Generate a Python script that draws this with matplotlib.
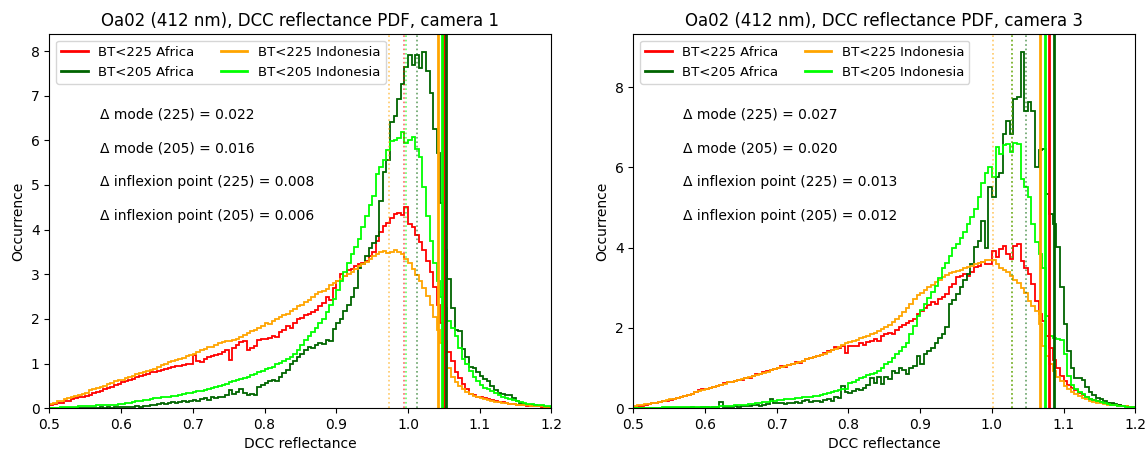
import numpy as np
import matplotlib.pyplot as plt

# bins: 0.005 wide from 0.5 to 1.2
bin_lo, bin_hi, nbins = 0.5, 1.2, 140

labels = ["BT<225 Africa", "BT<205 Africa", "BT<225 Indonesia", "BT<205 Indonesia"]
colors = ["red", "darkgreen", "orange", "lime"]

# camera 1 PDFs
cam1_afr225 = [
    0.08, 0.10, 0.12, 0.12, 0.15, 0.17, 0.20, 0.22, 0.24, 0.26,
    0.28, 0.30, 0.33, 0.36, 0.38, 0.42, 0.45, 0.48, 0.52, 0.55,
    0.58, 0.60, 0.63, 0.66, 0.70, 0.72, 0.74, 0.77, 0.80, 0.82,
    0.84, 0.86, 0.88, 0.90, 0.92, 0.94, 0.95, 0.97, 0.98, 1.00,
    1.20, 1.05, 1.03, 1.10, 1.15, 1.16, 1.18, 1.22, 1.26, 1.30,
    1.08, 1.35, 1.42, 1.48, 1.50, 1.30, 1.35, 1.40, 1.52, 1.55,
    1.55, 1.58, 1.62, 1.60, 1.70, 1.75, 1.85, 1.80, 1.90, 2.00,
    2.02, 2.08, 2.12, 2.15, 2.20, 2.28, 2.35, 2.48, 2.42, 2.70,
    2.85, 3.00, 2.95, 3.10, 3.12, 3.18, 3.22, 3.25, 3.30, 3.40,
    3.50, 3.75, 3.95, 4.08, 4.15, 4.25, 4.35, 4.38, 4.32, 4.50,
    4.12, 4.05, 3.88, 3.72, 3.55, 3.30, 3.05, 2.72, 2.30, 1.90,
    1.50, 1.25, 1.05, 0.82, 0.68, 0.54, 0.42, 0.32, 0.30, 0.26,
    0.24, 0.22, 0.20, 0.18, 0.16, 0.14, 0.13, 0.12, 0.10, 0.09,
    0.08, 0.07, 0.06, 0.05, 0.05, 0.04, 0.04, 0.03, 0.03, 0.02,
]
cam1_afr205 = [
    0.00, 0.00, 0.00, 0.01, 0.00, 0.01, 0.00, 0.01, 0.01, 0.00,
    0.01, 0.01, 0.00, 0.01, 0.02, 0.01, 0.02, 0.01, 0.02, 0.02,
    0.02, 0.03, 0.02, 0.03, 0.04, 0.03, 0.05, 0.04, 0.06, 0.08,
    0.10, 0.12, 0.10, 0.12, 0.14, 0.12, 0.14, 0.15, 0.13, 0.16,
    0.18, 0.17, 0.20, 0.22, 0.19, 0.24, 0.22, 0.26, 0.25, 0.30,
    0.40, 0.32, 0.36, 0.42, 0.33, 0.30, 0.31, 0.29, 0.48, 0.52,
    0.56, 0.60, 0.63, 0.60, 0.70, 0.78, 0.85, 0.98, 1.05, 1.15,
    1.22, 1.30, 1.37, 1.35, 1.42, 1.45, 1.44, 1.52, 1.50, 1.78,
    1.90, 2.00, 2.18, 2.30, 2.50, 2.70, 3.15, 3.22, 3.40, 3.58,
    3.70, 3.85, 4.65, 5.30, 5.55, 6.40, 6.55, 6.92, 7.25, 7.65,
    7.92, 7.68, 7.90, 7.62, 7.98, 7.55, 7.05, 6.25, 5.72, 4.60,
    3.55, 2.90, 2.25, 1.75, 1.72, 1.32, 1.15, 0.92, 0.90, 0.82,
    0.72, 0.66, 0.60, 0.50, 0.40, 0.34, 0.32, 0.29, 0.30, 0.22,
    0.15, 0.12, 0.10, 0.08, 0.07, 0.07, 0.05, 0.04, 0.03, 0.03,
]
cam1_ind225 = [
    0.10, 0.12, 0.15, 0.17, 0.20, 0.22, 0.24, 0.27, 0.30, 0.32,
    0.35, 0.40, 0.42, 0.45, 0.48, 0.50, 0.53, 0.57, 0.60, 0.62,
    0.64, 0.67, 0.70, 0.73, 0.76, 0.78, 0.80, 0.83, 0.86, 0.88,
    0.92, 0.96, 1.00, 1.03, 1.06, 1.08, 1.10, 1.13, 1.17, 1.20,
    1.22, 1.25, 1.30, 1.33, 1.36, 1.38, 1.42, 1.45, 1.48, 1.50,
    1.50, 1.53, 1.56, 1.60, 1.63, 1.68, 1.72, 1.76, 1.80, 1.85,
    1.90, 1.88, 1.95, 2.00, 2.05, 2.08, 2.12, 2.18, 2.22, 2.28,
    2.32, 2.38, 2.42, 2.48, 2.55, 2.60, 2.63, 2.68, 2.75, 2.80,
    2.85, 2.90, 2.95, 3.00, 3.05, 3.12, 3.18, 3.22, 3.28, 3.35,
    3.40, 3.45, 3.50, 3.52, 3.48, 3.50, 3.55, 3.50, 3.45, 3.35,
    3.25, 3.12, 2.98, 2.85, 2.70, 2.52, 2.30, 2.05, 1.75, 1.45,
    1.15, 0.90, 0.70, 0.58, 0.50, 0.43, 0.37, 0.32, 0.28, 0.24,
    0.22, 0.20, 0.18, 0.16, 0.14, 0.13, 0.12, 0.11, 0.10, 0.09,
    0.08, 0.07, 0.07, 0.06, 0.05, 0.05, 0.04, 0.04, 0.03, 0.03,
]
cam1_ind205 = [
    0.00, 0.01, 0.01, 0.02, 0.02, 0.02, 0.03, 0.03, 0.04, 0.04,
    0.04, 0.05, 0.05, 0.06, 0.06, 0.07, 0.07, 0.08, 0.08, 0.09,
    0.10, 0.11, 0.12, 0.14, 0.15, 0.17, 0.18, 0.19, 0.20, 0.22,
    0.22, 0.24, 0.25, 0.26, 0.27, 0.28, 0.30, 0.32, 0.33, 0.35,
    0.36, 0.38, 0.39, 0.41, 0.43, 0.45, 0.47, 0.49, 0.52, 0.55,
    0.58, 0.60, 0.62, 0.65, 0.68, 0.70, 0.74, 0.77, 0.80, 0.84,
    0.87, 0.90, 0.93, 0.98, 1.02, 1.06, 1.10, 1.15, 1.22, 1.30,
    1.42, 1.52, 1.62, 1.70, 1.80, 1.90, 2.00, 2.15, 2.30, 2.45,
    2.65, 2.85, 3.05, 3.25, 3.45, 3.62, 3.78, 4.05, 4.30, 4.55,
    4.75, 5.25, 5.40, 5.55, 5.78, 5.98, 6.00, 6.05, 6.18, 5.95,
    6.00, 6.08, 5.80, 5.62, 4.95, 4.30, 3.75, 3.25, 2.85, 2.50,
    2.25, 1.95, 1.80, 1.62, 1.35, 1.10, 1.00, 0.84, 0.70, 0.60,
    0.52, 0.46, 0.42, 0.38, 0.34, 0.30, 0.26, 0.23, 0.20, 0.18,
    0.16, 0.14, 0.12, 0.10, 0.09, 0.08, 0.07, 0.06, 0.05, 0.05,
]

# camera 3 PDFs
cam3_afr225 = [
    0.03, 0.05, 0.06, 0.08, 0.10, 0.12, 0.13, 0.15, 0.17, 0.19,
    0.21, 0.24, 0.26, 0.28, 0.31, 0.33, 0.36, 0.40, 0.44, 0.47,
    0.48, 0.50, 0.52, 0.56, 0.58, 0.62, 0.64, 0.65, 0.68, 0.70,
    0.70, 0.74, 0.76, 0.80, 0.84, 0.85, 0.90, 0.92, 0.95, 0.98,
    1.00, 1.04, 1.03, 1.08, 1.10, 1.14, 1.12, 1.18, 1.22, 1.24,
    1.28, 1.30, 1.32, 1.38, 1.42, 1.46, 1.52, 1.50, 1.55, 1.38,
    1.56, 1.56, 1.55, 1.62, 1.58, 1.65, 1.68, 1.72, 1.68, 1.80,
    1.84, 1.88, 1.85, 1.95, 2.02, 2.08, 2.12, 2.18, 2.22, 2.35,
    2.43, 2.50, 2.58, 2.64, 2.60, 2.72, 2.76, 2.85, 3.01, 3.10,
    3.26, 3.30, 3.34, 3.30, 3.40, 3.51, 3.55, 3.63, 3.58, 3.60,
    3.92, 3.76, 3.96, 4.05, 3.84, 3.72, 4.05, 4.10, 3.67, 3.50,
    3.34, 3.09, 2.67, 2.34, 2.17, 1.80, 1.51, 1.20, 1.01, 0.81,
    0.68, 0.58, 0.51, 0.44, 0.38, 0.33, 0.28, 0.24, 0.20, 0.18,
    0.15, 0.13, 0.12, 0.10, 0.08, 0.07, 0.06, 0.05, 0.04, 0.03,
]
cam3_afr205 = [
    0.00, 0.00, 0.00, 0.00, 0.01, 0.00, 0.00, 0.01, 0.00, 0.01,
    0.00, 0.01, 0.01, 0.00, 0.01, 0.01, 0.02, 0.01, 0.01, 0.02,
    0.02, 0.01, 0.03, 0.02, 0.16, 0.03, 0.04, 0.03, 0.05, 0.04,
    0.05, 0.06, 0.05, 0.07, 0.08, 0.06, 0.09, 0.10, 0.24, 0.12,
    0.12, 0.13, 0.11, 0.14, 0.13, 0.15, 0.14, 0.18, 0.20, 0.16,
    0.18, 0.17, 0.16, 0.20, 0.22, 0.18, 0.29, 0.26, 0.54, 0.40,
    0.37, 0.42, 0.48, 0.45, 0.50, 0.58, 0.75, 0.62, 0.78, 0.60,
    0.77, 0.72, 0.93, 0.88, 1.01, 0.95, 0.85, 1.01, 1.05, 1.30,
    1.10, 1.35, 1.42, 1.51, 1.62, 1.76, 1.85, 2.01, 2.59, 2.70,
    2.84, 3.01, 3.20, 3.34, 3.59, 4.01, 4.17, 4.67, 4.00, 5.50,
    5.25, 5.75, 5.85, 6.83, 7.16, 6.83, 7.71, 7.75, 8.88, 7.40,
    7.62, 7.41, 6.00, 6.42, 6.46, 5.34, 4.84, 4.59, 4.01, 3.01,
    2.09, 1.42, 1.01, 0.76, 0.76, 0.70, 0.52, 0.39, 0.32, 0.26,
    0.22, 0.18, 0.14, 0.12, 0.10, 0.08, 0.06, 0.05, 0.04, 0.03,
]
cam3_ind225 = [
    0.05, 0.07, 0.08, 0.10, 0.11, 0.13, 0.14, 0.16, 0.18, 0.20,
    0.22, 0.24, 0.26, 0.28, 0.30, 0.33, 0.36, 0.39, 0.42, 0.45,
    0.47, 0.50, 0.52, 0.55, 0.58, 0.61, 0.64, 0.66, 0.68, 0.70,
    0.72, 0.75, 0.77, 0.80, 0.83, 0.86, 0.88, 0.91, 0.94, 0.97,
    1.00, 1.03, 1.05, 1.07, 1.10, 1.12, 1.15, 1.18, 1.22, 1.25,
    1.28, 1.30, 1.33, 1.36, 1.40, 1.44, 1.48, 1.52, 1.58, 1.62,
    1.64, 1.67, 1.70, 1.74, 1.77, 1.80, 1.84, 1.88, 1.92, 1.98,
    2.03, 2.08, 2.15, 2.22, 2.30, 2.40, 2.50, 2.60, 2.72, 2.82,
    2.88, 2.95, 3.02, 3.08, 3.15, 3.20, 3.26, 3.32, 3.36, 3.40,
    3.42, 3.45, 3.48, 3.52, 3.55, 3.58, 3.62, 3.65, 3.68, 3.70,
    3.68, 3.60, 3.50, 3.45, 3.38, 3.30, 3.20, 3.12, 3.00, 2.88,
    2.67, 2.55, 2.42, 2.09, 1.55, 1.30, 1.10, 0.93, 0.78, 0.68,
    0.55, 0.48, 0.40, 0.35, 0.30, 0.26, 0.22, 0.19, 0.16, 0.14,
    0.12, 0.10, 0.09, 0.08, 0.07, 0.06, 0.05, 0.05, 0.04, 0.03,
]
cam3_ind205 = [
    0.00, 0.00, 0.00, 0.01, 0.01, 0.01, 0.01, 0.01, 0.02, 0.02,
    0.02, 0.02, 0.02, 0.02, 0.03, 0.03, 0.03, 0.03, 0.03, 0.03,
    0.03, 0.04, 0.04, 0.04, 0.05, 0.05, 0.05, 0.06, 0.07, 0.08,
    0.08, 0.09, 0.10, 0.11, 0.12, 0.13, 0.15, 0.16, 0.18, 0.19,
    0.20, 0.21, 0.22, 0.23, 0.24, 0.25, 0.26, 0.27, 0.28, 0.29,
    0.30, 0.31, 0.33, 0.35, 0.38, 0.41, 0.43, 0.46, 0.48, 0.47,
    0.62, 0.65, 0.70, 0.75, 0.78, 0.82, 0.85, 0.88, 0.92, 1.00,
    1.10, 1.15, 1.25, 1.35, 1.42, 1.52, 1.62, 1.85, 2.05, 2.30,
    2.45, 2.60, 2.75, 2.90, 3.05, 3.25, 3.50, 3.62, 3.80, 4.00,
    4.10, 4.25, 4.40, 4.60, 4.75, 4.95, 5.25, 5.60, 5.85, 6.00,
    5.75, 6.50, 6.32, 6.55, 6.58, 6.38, 6.60, 6.58, 5.70, 5.50,
    5.25, 4.60, 4.15, 3.85, 3.50, 2.30, 1.80, 1.75, 1.72, 1.70,
    1.35, 0.80, 0.58, 0.48, 0.40, 0.34, 0.28, 0.24, 0.20, 0.17,
    0.15, 0.12, 0.10, 0.09, 0.08, 0.06, 0.05, 0.04, 0.03, 0.03,
]

# modes (dotted) and inflexion points (solid), same order as labels
cam1_modes = [0.995, 1.013, 0.973, 0.997]
cam1_inflex = [1.0505, 1.053, 1.0425, 1.047]
cam3_modes = [1.028, 1.0475, 1.001, 1.0275]
cam3_inflex = [1.080, 1.086, 1.067, 1.074]

cam1_notes = ["0.022", "0.016", "0.008", "0.006"]
cam3_notes = ["0.027", "0.020", "0.013", "0.012"]

panels = [
    ("Oa02 (412 nm), DCC reflectance PDF, camera 1",
     [cam1_afr225, cam1_afr205, cam1_ind225, cam1_ind205],
     cam1_modes, cam1_inflex, cam1_notes, 8.38, np.arange(0, 9, 1)),
    ("Oa02 (412 nm), DCC reflectance PDF, camera 3",
     [cam3_afr225, cam3_afr205, cam3_ind225, cam3_ind205],
     cam3_modes, cam3_inflex, cam3_notes, 9.32, np.arange(0, 9, 2)),
]

plt.rcParams['font.size'] = 10
fig, axes = plt.subplots(1, 2, figsize=(11.48, 4.54), dpi=100)
fig.subplots_adjust(left=0.043, right=0.989, bottom=0.101, top=0.925, wspace=0.163)

edges = np.linspace(bin_lo, bin_hi, nbins + 1)
for ax, (title, series, modes, inflex, notes, ymax, yticks) in zip(axes, panels):
    for vals, c, lab in zip(series, colors, labels):
        ax.stairs(vals, edges, color=c, lw=1.3, label=lab)
    for m, c in zip(modes, colors):
        ax.axvline(m, color=c, ls=':', lw=1.2, alpha=0.6)
    for p, c in zip(inflex, colors):
        ax.axvline(p, color=c, lw=2)
    txt = ["\u0394 mode (225) = ", "\u0394 mode (205) = ",
           "\u0394 inflexion point (225) = ", "\u0394 inflexion point (205) = "]
    for k, (t, n) in enumerate(zip(txt, notes)):
        ax.text(0.1, 0.784 - 0.09 * k, t + n, transform=ax.transAxes,
                va='center', ha='left', fontsize=10)
    ax.set_xlim(bin_lo, bin_hi)
    ax.set_ylim(0, ymax)
    ax.set_yticks(yticks)
    ax.set_title(title, fontsize=12)
    ax.set_xlabel("DCC reflectance")
    ax.set_ylabel("Occurrence")
    leg = ax.legend(loc='upper left', ncol=2, fontsize=9.5)
    for h in leg.get_patches() + leg.get_lines():
        h.set_linewidth(2)

fig.savefig("out.png")
